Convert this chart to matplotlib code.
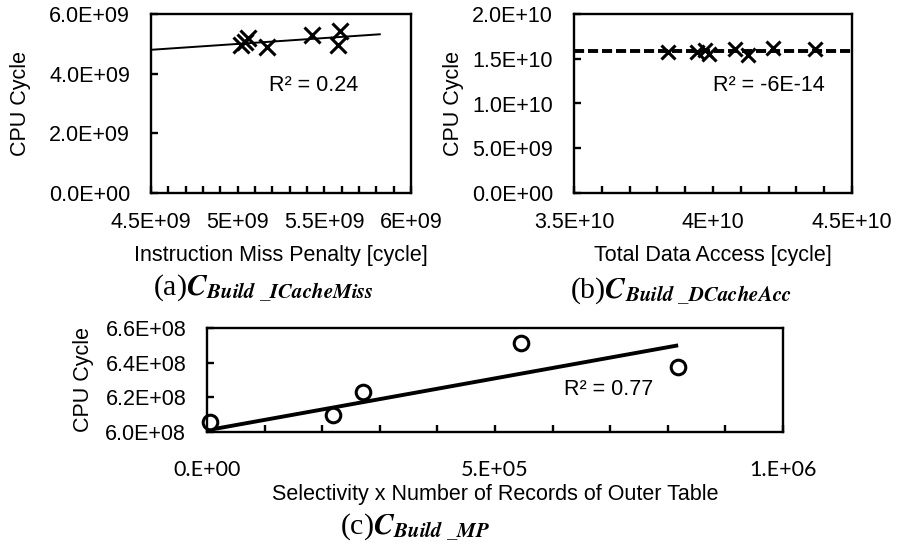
import numpy as np
import matplotlib.pyplot as plt
from matplotlib.ticker import FixedLocator, MultipleLocator

plt.rcParams['font.family'] = ['Liberation Sans', 'DejaVu Sans']
plt.rcParams['mathtext.fontset'] = 'stix'

# (a) instruction miss penalty vs CPU cycle
a_x = [5.02e9, 5.04e9, 5.06e9, 5.17e9, 5.43e9, 5.58e9, 5.59e9]
a_y = [4.95e9, 5.05e9, 5.20e9, 4.91e9, 5.30e9, 4.97e9, 5.44e9]
a_trend_x = [4.5e9, 5.82e9]
a_trend_y = [4.80e9, 5.32e9]
a_xticks = [4.5e9, 5.0e9, 5.5e9, 6.0e9]
a_xlabels = ['4.5E+09', '5E+09', '5.5E+09', '6E+09']
a_yticks = [0, 2e9, 4e9, 6e9]
a_ylabels = ['0.0E+00', '2.0E+09', '4.0E+09', '6.0E+09']

# (b) total data access vs CPU cycle
b_x = [3.837e10, 3.944e10, 3.971e10, 3.986e10, 4.078e10, 4.126e10, 4.216e10, 4.366e10]
b_y = [1.579e10, 1.579e10, 1.600e10, 1.557e10, 1.613e10, 1.546e10, 1.620e10, 1.613e10]
b_trend = 1.59e10
b_xticks = [3.5e10, 4.0e10, 4.5e10]
b_xlabels = ['3.5E+10', '4E+10', '4.5E+10']
b_yticks = [0, 5e9, 1e10, 1.5e10, 2e10]
b_ylabels = ['0.0E+00', '5.0E+09', '1.0E+10', '1.5E+10', '2.0E+10']

# (c) selectivity x records vs CPU cycle
c_x = [5e3, 2.18e5, 2.71e5, 5.45e5, 8.18e5]
c_y = [6.06e8, 6.098e8, 6.233e8, 6.515e8, 6.377e8]
c_trend_x = [0, 8.18e5]
c_trend_y = [6.01e8, 6.50e8]
c_xticks = [0, 5e5, 1e6]
c_xlabels = ['0.E+00', '5.E+05', '1.E+06']
c_yticks = [6.0e8, 6.2e8, 6.4e8, 6.6e8]
c_ylabels = ['6.0E+08', '6.2E+08', '6.4E+08', '6.6E+08']

FS = 15.5

def style(ax, xticks, xlabels, yticks, ylabels, minor, xpad=14):
    for s in ax.spines.values():
        s.set_linewidth(1.7)
    ax.xaxis.set_major_locator(FixedLocator(xticks))
    ax.set_xticklabels(xlabels)
    ax.xaxis.set_minor_locator(MultipleLocator(minor))
    ax.set_yticks(yticks)
    ax.set_yticklabels(ylabels)
    ax.tick_params(axis='x', which='both', direction='in', length=5, width=1.7,
                   labelsize=FS, pad=xpad, top=False)
    ax.tick_params(axis='y', which='both', direction='in', length=5, width=1.7,
                   labelsize=FS, pad=15, right=False)

fig = plt.figure(figsize=(8.97, 5.52), dpi=100)

ax = fig.add_axes([151/897, 1-193/552, 260/897, 179/552])
ax.plot(a_trend_x, a_trend_y, color='black', lw=1.4)
ax.plot(a_x, a_y, linestyle='none', marker='x', ms=11, mew=2.2, color='black')
ax.set_xlim(4.5e9, 6.0e9)
ax.set_ylim(0, 6e9)
style(ax, a_xticks, a_xlabels, a_yticks, a_ylabels, 1e8)
ax.set_xlabel('Instruction Miss Penalty [cycle]', fontsize=FS, labelpad=8)
ax.set_ylabel('CPU Cycle', fontsize=FS, labelpad=13)
ax.text(0.454, 0.603, 'R² = 0.24', transform=ax.transAxes, fontsize=FS, va='center')

ax = fig.add_axes([574/897, 1-193/552, 278/897, 179/552])
ax.axhline(b_trend, color='black', lw=2.8, dashes=(2.6, 1.0))
ax.plot(b_x, b_y, linestyle='none', marker='x', ms=10, mew=2.2, color='black')
ax.set_xlim(3.5e10, 4.5e10)
ax.set_ylim(0, 2e10)
style(ax, b_xticks, b_xlabels, b_yticks, b_ylabels, 1e9)
ax.set_xlabel('Total Data Access [cycle]', fontsize=FS, labelpad=8)
ax.set_ylabel('CPU Cycle', fontsize=FS, labelpad=6)
ax.text(0.499, 0.598, 'R² = -6E-14', transform=ax.transAxes, fontsize=FS, va='center')

ax = fig.add_axes([207/897, 1-432/552, 576/897, 104/552])
ax.plot(c_trend_x, c_trend_y, color='black', lw=2.8, solid_capstyle='butt')
ax.plot(c_x, c_y, linestyle='none', marker='o', ms=10.5, mew=2.2, mec='black',
        mfc='white', clip_on=False)
ax.set_xlim(0, 1e6)
ax.set_ylim(6.0e8, 6.6e8)
style(ax, c_xticks, c_xlabels, c_yticks, c_ylabels, 1e5, xpad=20)
for t in ax.get_xticklabels():
    t.set_fontfamily(['Lato', 'DejaVu Sans'])
ax.set_xlabel('Selectivity x Number of Records of Outer Table', fontsize=FS, labelpad=3)
ax.set_ylabel('CPU Cycle', fontsize=FS, labelpad=8)
ax.text(0.62, 0.404, 'R² = 0.77', transform=ax.transAxes, fontsize=FS, va='center')

cap = dict(fontsize=21.5, family='Liberation Serif', ha='center', va='center')
fig.text(263/897, 1-288/552, r'(a)$\mathbfit{C}_{\mathbfit{Build\ \_ICacheMiss}}$', **cap)
fig.text(681/897, 1-291/552, r'(b)$\mathbfit{C}_{\mathbfit{Build\ \_DCacheAcc}}$', **cap)
fig.text(415/897, 1-527/552, r'(c)$\mathbfit{C}_{\mathbfit{Build\ \_MP}}$', **cap)

plt.savefig('out.png', dpi=100)
